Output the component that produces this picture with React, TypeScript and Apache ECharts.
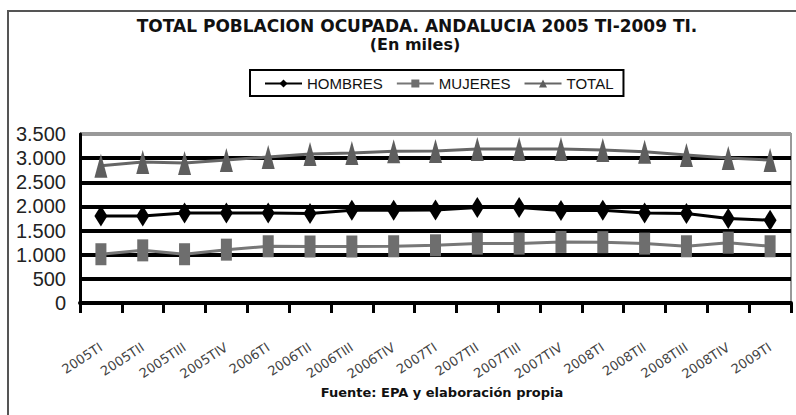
import React, { useEffect, useRef } from "react";
import * as echarts from "echarts";

const categories = [
  "2005TI", "2005TII", "2005TIII", "2005TIV",
  "2006TI", "2006TII", "2006TIII", "2006TIV",
  "2007TI", "2007TII", "2007TIII", "2007TIV",
  "2008TI", "2008TII", "2008TIII", "2008TIV",
  "2009TI",
];
const hombres = [1800, 1800, 1865, 1865, 1865, 1855, 1920, 1920, 1925, 1980, 1980, 1915, 1920, 1865, 1855, 1750, 1715];
const mujeres = [1010, 1090, 1010, 1105, 1175, 1170, 1170, 1175, 1195, 1230, 1230, 1265, 1260, 1230, 1175, 1250, 1175];
const total = [2840, 2920, 2900, 2960, 3025, 3085, 3105, 3145, 3150, 3190, 3190, 3190, 3170, 3130, 3065, 3005, 2960];
const yTicks = [0, 500, 1000, 1500, 2000, 2500, 3000, 3500];
const yTickLabels = ["0", "500", "1.000", "1.500", "2.000", "2.500", "3.000", "3.500"];

const titleText = "TOTAL POBLACION OCUPADA. ANDALUCIA 2005 TI-2009 TI.";
const subtitleText = "(En miles)";
const sourceText = "Fuente: EPA y elaboración propia";

export default function App() {
  const ref = useRef<HTMLDivElement>(null);
  useEffect(() => {
    if (!ref.current) return;
    const chart = echarts.init(ref.current, null, { renderer: "svg" });
    const font = "Arial, 'Liberation Sans', sans-serif";
    const wide = "'DejaVu Sans', Verdana, sans-serif";
    chart.setOption({
      animation: false,
      backgroundColor: "#fff",
      graphic: [
        { type: "rect", shape: { x: 8, y: 11, width: 820, height: 440 }, style: { fill: "none", stroke: "#555", lineWidth: 2 }, silent: true, z: -1 },
        { type: "text", x: 417, y: 17, style: { text: titleText, fontFamily: wide, fontSize: 17, fontWeight: "bold", fill: "#111", textAlign: "center", textVerticalAlign: "top" }, silent: true },
        { type: "text", x: 415, y: 36, style: { text: subtitleText, fontFamily: wide, fontSize: 16, fontWeight: "bold", fill: "#111", textAlign: "center", textVerticalAlign: "top" }, silent: true },
        { type: "text", x: 442, y: 386, style: { text: sourceText, fontFamily: wide, fontSize: 13, fontWeight: "bold", fill: "#111", textAlign: "center", textVerticalAlign: "top" }, silent: true },
      ],
      legend: {
        left: 250,
        top: 70,
        padding: [6, 10, 5, 14],
        borderColor: "#000",
        borderWidth: 2,
        itemWidth: 37,
        itemHeight: 10,
        itemGap: 13,
        textStyle: { fontFamily: font, fontSize: 15, color: "#111" },
        data: ["HOMBRES", "MUJERES", "TOTAL"],
      },
      grid: {
        left: 80,
        right: 5,
        top: 134,
        bottom: 112,
        show: true,
        borderColor: "#999",
        borderWidth: 2,
        containLabel: false,
      },
      xAxis: {
        type: "category",
        data: categories,
        boundaryGap: true,
        axisLine: { show: true, lineStyle: { color: "#000", width: 4 } },
        axisTick: { show: true, alignWithLabel: false, length: 10, lineStyle: { color: "#000", width: 3 } },
        axisLabel: { rotate: 33, margin: 43, interval: 0, fontFamily: wide, fontSize: 13, color: "#444" },
        splitLine: { show: false },
      },
      yAxis: {
        type: "value",
        min: 0,
        max: 3500,
        interval: 500,
        axisLine: { show: true, lineStyle: { color: "#000", width: 3 } },
        axisTick: { show: false },
        axisLabel: {
          margin: 14,
          fontFamily: font,
          fontSize: 20,
          color: "#222",
          formatter: (v: number) => {
            const i = yTicks.indexOf(v);
            return i >= 0 ? yTickLabels[i] : String(v);
          },
        },
        splitLine: {
          show: true,
          lineStyle: { color: ["#000", "#000", "#000", "#000", "#000", "#000", "#000", "#999"], width: 4 },
        },
      },
      series: [
        {
          name: "HOMBRES",
          type: "line",
          data: hombres,
          symbol: "diamond",
          symbolSize: [13, 21],
          lineStyle: { color: "#000", width: 3 },
          itemStyle: { color: "#000" },
          z: 4,
        },
        {
          name: "MUJERES",
          type: "line",
          data: mujeres,
          symbol: "rect",
          symbolSize: [11, 22],
          lineStyle: { color: "#777", width: 3 },
          itemStyle: { color: "#6e6e6e" },
          z: 3,
        },
        {
          name: "TOTAL",
          type: "line",
          data: total,
          symbol: "triangle",
          symbolSize: [13, 24],
          lineStyle: { color: "#666", width: 3 },
          itemStyle: { color: "#5e5e5e" },
          z: 3,
        },
      ],
    });
    return () => chart.dispose();
  }, []);
  return <div ref={ref} style={{ position: "fixed", left: 0, top: 0, width: 796, height: 415 }} />;
}
